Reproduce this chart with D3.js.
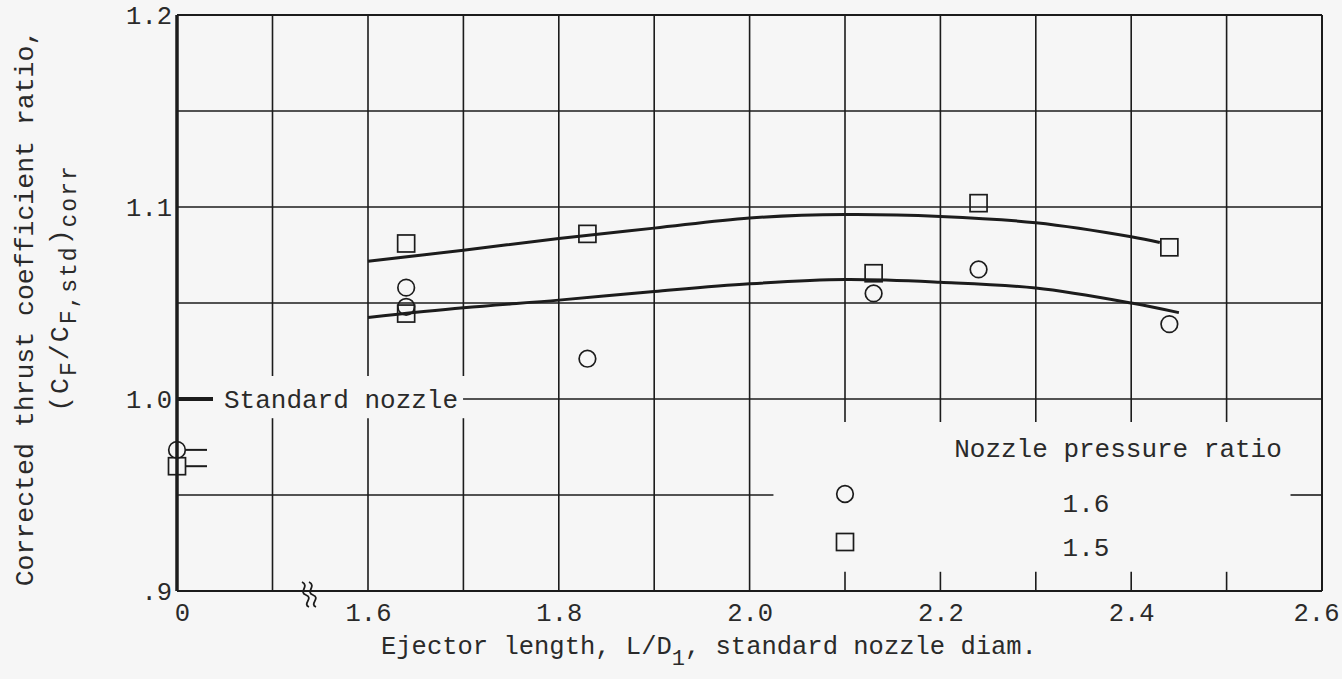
<!DOCTYPE html>
<html>
<head>
  <script src="https://d3js.org/d3.v7.min.js"></script>
  <style>
    body { margin: 0; background: #f6f6f6; }
    text { font-family: "Liberation Mono", "DejaVu Sans Mono", monospace; fill: #2a2a2a; }
  </style>
</head>
<body>
  <svg id="chart"></svg>
  <script>
    // measured points, nozzle pressure ratio 1.6 (circles) and 1.5 (squares)
    var npr16X = [0, 1.64, 1.64, 1.83, 2.13, 2.24, 2.44];
    var npr16Y = [0.9735, 1.058, 1.048, 1.021, 1.055, 1.0675, 1.039];
    var npr15X = [0, 1.64, 1.64, 1.83, 2.13, 2.24, 2.44];
    var npr15Y = [0.965, 1.081, 1.0445, 1.086, 1.0655, 1.102, 1.079];

    // faired curves
    var fair16X = [1.59, 1.70, 1.80, 1.90, 2.00, 2.10, 2.20, 2.30, 2.40, 2.45];
    var fair16Y = [1.0425, 1.0475, 1.0515, 1.056, 1.060, 1.0622, 1.0608, 1.0578, 1.050, 1.045];
    var fair15X = [1.59, 1.70, 1.80, 1.90, 2.00, 2.10, 2.20, 2.30, 2.40, 2.43];
    var fair15Y = [1.0718, 1.0775, 1.0836, 1.089, 1.0943, 1.0961, 1.0951, 1.0918, 1.0845, 1.0815];

    var xTicks = [0, 1.6, 1.8, 2.0, 2.2, 2.4, 2.6];
    var xTickLabels = ["0", "1.6", "1.8", "2.0", "2.2", "2.4", "2.6"];
    var yTicks = [0.9, 1.0, 1.1, 1.2];
    var yTickLabels = [".9", "1.0", "1.1", "1.2"];
    var xGrid = [0.1, 1.6, 1.7, 1.8, 1.9, 2.0, 2.1, 2.2, 2.3, 2.4, 2.5];
    var yGrid = [1.05, 1.1, 1.15];

    var width = 1342, height = 679;
    var ink = "#1c1c1c";

    // broken axis: 0..0.2 on the left, 1.6..2.6 after the break
    var x = d3.scaleLinear()
              .domain([0, 0.2, 1.6, 2.6])
              .range([177, 368, 368, 1322]);
    var y = d3.scaleLinear()
              .domain([0.9, 1.2])
              .range([591, 15]);

    var svg = d3.select("#chart")
                .attr("width", width)
                .attr("height", height);

    function seg(x1, y1, x2, y2, w) {
      svg.append("line")
         .attr("x1", x1).attr("y1", y1)
         .attr("x2", x2).attr("y2", y2)
         .attr("stroke", ink)
         .attr("stroke-width", w || 1.6);
    }

    // horizontal grid
    yGrid.forEach(function(v) { seg(x(0), y(v), x(2.6), y(v)); });
    seg(x(0), y(1.2), x(2.6), y(1.2), 2);
    seg(x(0), y(0.95), x(2.025), y(0.95));
    seg(x(2.567), y(0.95), x(2.6), y(0.95));

    // vertical grid, interrupted by the label and the legend
    xGrid.forEach(function(v) {
      if (v < 1.75) {
        seg(x(v), y(1.2), x(v), y(1.012));
        seg(x(v), y(0.99), x(v), y(0.9));
      } else if (v < 2.05) {
        seg(x(v), y(1.2), x(v), y(0.9));
      } else {
        seg(x(v), y(1.2), x(v), y(0.988));
        seg(x(v), y(0.91), x(v), y(0.9));
      }
    });
    seg(x(2.6), y(1.2), x(2.6), y(0.9), 2);
    seg(x(0), y(0.9), x(2.6), y(0.9), 2);
    seg(x(0), y(1.2), x(0), y(0.9), 3.5);

    // axis break mark
    [0, 7].forEach(function(d) {
      var bx = 302 + d;
      svg.append("path")
         .attr("d", "M" + bx + ",582 C" + (bx + 8) + ",586 " + (bx - 4) + ",592 " + (bx + 4) + ",595" +
                    " C" + (bx + 12) + ",598 " + bx + ",604 " + (bx + 7) + ",607")
         .attr("fill", "none")
         .attr("stroke", ink)
         .attr("stroke-width", 1.8);
    });

    // standard nozzle reference
    seg(x(0), y(1.0), x(0) + 36, y(1.0), 4);
    var stdLabel = svg.append("text")
                      .attr("x", x(0) + 47)
                      .attr("y", y(1.0))
                      .attr("dy", "0.33em")
                      .attr("font-size", 26)
                      .text("Standard nozzle");
    var lblEnd = stdLabel.node().getBBox();
    seg(lblEnd.x + lblEnd.width + 5, y(1.0), x(2.6), y(1.0));

    // axes labels
    var yAxis = svg.append("g")
                   .attr("transform", "translate(" + x(0) + ",0)")
                   .call(d3.axisLeft(y).tickValues(yTicks)
                           .tickFormat(function(d, i) { return yTickLabels[i]; })
                           .tickSize(0).tickPadding(5));
    var xAxis = svg.append("g")
                   .attr("transform", "translate(0," + y(0.9) + ")")
                   .call(d3.axisBottom(x).tickValues(xTicks)
                           .tickFormat(function(d, i) { return xTickLabels[i]; })
                           .tickSize(0).tickPadding(12));
    [xAxis, yAxis].forEach(function(a) {
      a.select(".domain").remove();
      a.selectAll("text")
       .attr("font-size", 25.5)
       .attr("font-family", "Liberation Mono, monospace")
       .attr("fill", "#2a2a2a");
    });
    xAxis.selectAll(".tick text")
         .attr("dx", function(d, i) { return i === 0 ? 5 : (i === xTicks.length - 1 ? -6 : 0); });

    // faired curves
    var line = d3.line()
                 .x(function(d) { return x(d[0]); })
                 .y(function(d) { return y(d[1]); })
                 .curve(d3.curveCatmullRom.alpha(0.5));
    [[fair16X, fair16Y], [fair15X, fair15Y]].forEach(function(s) {
      svg.append("path")
         .datum(d3.zip(s[0], s[1]))
         .attr("d", line)
         .attr("fill", "none")
         .attr("stroke", ink)
         .attr("stroke-width", 3);
    });

    // symbols
    function circle(cx, cy) {
      svg.append("circle")
         .attr("cx", cx).attr("cy", cy).attr("r", 8.3)
         .attr("fill", "none").attr("stroke", ink).attr("stroke-width", 1.7);
    }
    function square(cx, cy) {
      svg.append("rect")
         .attr("x", cx - 8.5).attr("y", cy - 8.5)
         .attr("width", 17).attr("height", 17)
         .attr("fill", "none").attr("stroke", ink).attr("stroke-width", 1.7);
    }
    npr16X.forEach(function(v, i) {
      circle(x(v), y(npr16Y[i]));
      if (v === 0) seg(x(v) + 9, y(npr16Y[i]), x(v) + 30, y(npr16Y[i]), 2);
    });
    npr15X.forEach(function(v, i) {
      square(x(v), y(npr15Y[i]));
      if (v === 0) seg(x(v) + 9, y(npr15Y[i]), x(v) + 30, y(npr15Y[i]), 2);
    });

    // legend
    svg.append("text")
       .attr("x", 1118).attr("y", 448).attr("dy", "0.33em")
       .attr("text-anchor", "middle").attr("font-size", 26)
       .text("Nozzle pressure ratio");
    circle(845, 494);
    square(845, 542);
    svg.append("text")
       .attr("x", 1086).attr("y", 503).attr("dy", "0.33em")
       .attr("text-anchor", "middle").attr("font-size", 26).text("1.6");
    svg.append("text")
       .attr("x", 1086).attr("y", 547).attr("dy", "0.33em")
       .attr("text-anchor", "middle").attr("font-size", 26).text("1.5");

    // axis titles
    var xt = svg.append("text")
                .attr("x", 381).attr("y", 654)
                .attr("font-size", 25.5);
    xt.append("tspan").text("Ejector length, L/D");
    xt.append("tspan").attr("dy", 11).attr("font-size", 22).text("1");
    xt.append("tspan").attr("dy", -11).text(", standard nozzle diam.");

    svg.append("text")
       .attr("transform", "translate(33,308) rotate(-90)")
       .attr("text-anchor", "middle")
       .attr("font-size", 26.5)
       .text("Corrected thrust coefficient ratio,");

    var yt2 = svg.append("text")
                 .attr("transform", "translate(68,288) rotate(-90)")
                 .attr("text-anchor", "middle")
                 .attr("letter-spacing", 2)
                 .attr("font-size", 26.5);
    yt2.append("tspan").text("(C");
    yt2.append("tspan").attr("dy", 8).attr("font-size", 23).text("F");
    yt2.append("tspan").attr("dy", -8).text("/C");
    yt2.append("tspan").attr("dy", 8).attr("font-size", 23).text("F,std");
    yt2.append("tspan").attr("dy", -8).text(")");
    yt2.append("tspan").attr("dy", 8).attr("font-size", 23).text("corr");
  </script>
</body>
</html>
